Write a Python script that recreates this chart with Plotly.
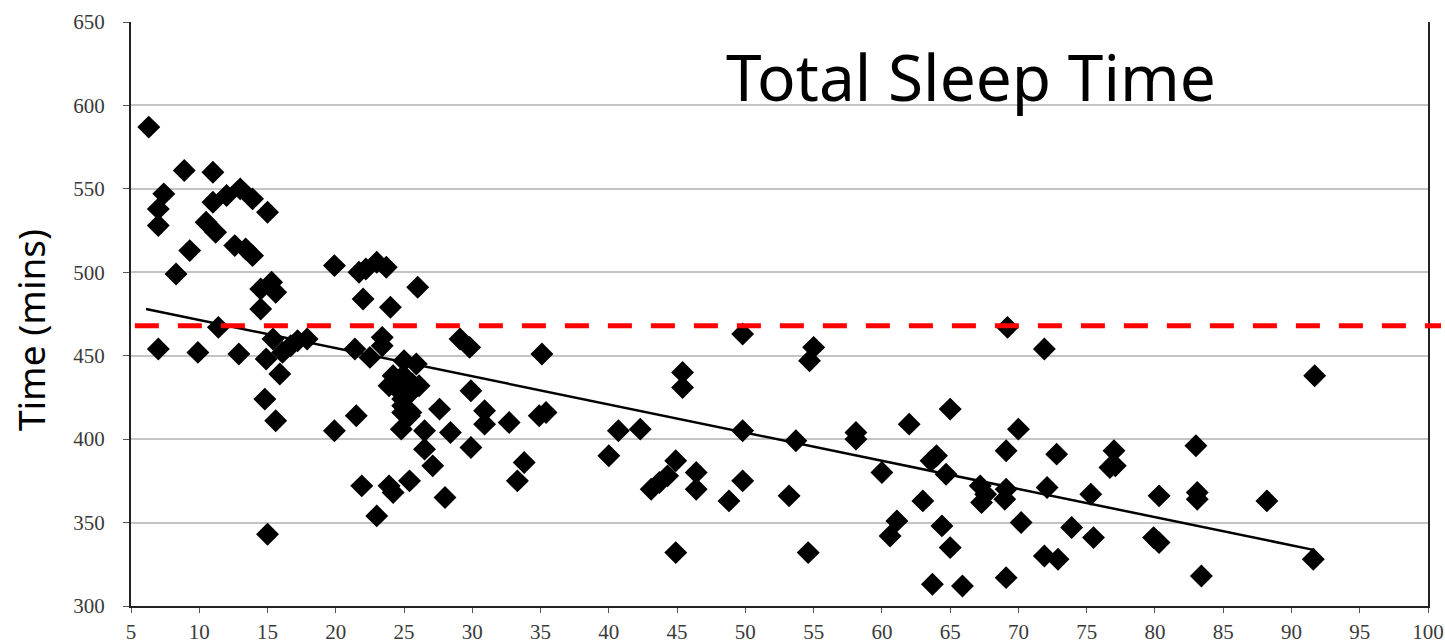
import plotly.graph_objects as go

# Age (x) and total sleep time in minutes (y)
age = [
    6.3, 8.9, 11.0, 7.4, 7.0, 7.0, 11.0, 12.0, 13.0, 13.9, 15.0, 10.5, 11.2, 12.6, 13.4, 13.9,
    9.3, 8.3, 15.3, 14.5, 15.6, 14.5, 11.4, 7.0, 9.9, 12.9, 14.9, 15.4, 17.2, 17.9, 16.1, 16.7,
    15.9, 14.8, 15.6, 15.0,
    19.9, 21.7, 23.0, 23.7, 22.2, 26.0, 22.0, 24.0, 21.4, 22.5, 23.4, 23.4, 29.1, 29.8,
    25.0, 25.9, 23.9, 24.7, 25.2, 25.6, 25.6, 26.1, 24.4, 24.2, 25.2, 24.9, 24.9, 25.5, 25.4, 24.9,
    27.6, 29.9, 21.5, 19.9, 24.8, 26.5, 28.4, 26.5, 27.1, 29.9, 21.9, 23.9, 24.2, 25.4, 23.0, 28.0,
    35.1, 45.4, 45.4, 30.9, 30.9, 32.7, 34.9, 35.4, 33.8, 33.3, 40.7, 42.3, 40.0, 44.9, 46.4, 46.4,
    43.1, 43.7, 44.3, 48.8, 49.8, 49.8, 44.9, 49.8,
    55.0, 54.7, 69.2, 71.9, 53.7, 58.1, 58.1, 62.0, 65.0, 70.0, 69.1, 60.0, 63.6, 64.0, 64.7, 53.2,
    67.2, 67.6, 67.3, 69.1, 69.0, 63.0, 61.1, 60.6, 64.4, 65.0, 70.2, 54.6, 63.7, 65.9, 69.1, 71.9,
    72.9, 91.7, 72.8, 77.0, 76.7, 77.1, 83.0, 72.1, 75.3, 80.3, 83.1, 83.1, 88.2, 73.9, 75.5, 79.9,
    80.3, 91.6, 83.4,
]
sleep_min = [
    587, 561, 560, 547, 538, 528, 542, 546, 550, 544, 536, 530, 524, 516, 514, 510,
    513, 499, 494, 490, 488, 478, 467, 454, 452, 451, 448, 460, 459, 460, 452, 456,
    439, 424, 411, 343,
    504, 500, 506, 503, 502, 491, 484, 479, 454, 449, 461, 456, 460, 455,
    447, 445, 432, 436, 436, 433, 429, 432, 431, 438, 426, 424, 420, 416, 414, 416,
    418, 429, 414, 405, 406, 405, 404, 394, 384, 395, 372, 372, 368, 375, 354, 365,
    451, 440, 431, 417, 409, 410, 414, 416, 386, 375, 405, 406, 390, 387, 380, 370,
    370, 374, 378, 363, 375, 405, 332, 463,
    455, 447, 467, 454, 399, 404, 400, 409, 418, 406, 393, 380, 387, 390, 379, 366,
    372, 367, 362, 370, 364, 363, 351, 342, 348, 335, 350, 332, 313, 312, 317, 330,
    328, 438, 391, 393, 383, 384, 396, 371, 367, 366, 368, 364, 363, 347, 341, 341,
    338, 328, 318,
]

# Trend line end points
trend_x = [6.1, 91.7]
trend_y = [478, 333.5]

# Recommended reference level (dashed red line)
reference_level = 468

x_ticks = list(range(5, 101, 5))
y_ticks = list(range(300, 651, 50))

tick_font = dict(family="Liberation Serif", size=21, color="#3a3a3a")

fig = go.Figure()
fig.add_trace(go.Scatter(
    x=age, y=sleep_min, mode="markers",
    marker=dict(symbol="diamond", size=16, color="black",
                line=dict(color="black", width=1.5)),
    showlegend=False, cliponaxis=False,
))
fig.add_trace(go.Scatter(
    x=trend_x, y=trend_y, mode="lines",
    line=dict(color="black", width=2.5), showlegend=False,
))

fig.add_shape(type="line", xref="paper", yref="y",
              x0=0.003, x1=1.01, y0=reference_level, y1=reference_level,
              line=dict(color="#ff0000", width=5, dash="24px,19px"), layer="above")

fig.add_annotation(text="Total Sleep Time", xref="paper", yref="paper",
                   x=(971 - 131) / 1297, y=(606 - 76) / 584, xanchor="center", yanchor="middle",
                   showarrow=False, font=dict(family="Noto Sans", size=64, color="black"))

fig.add_annotation(text="Time (mins)", xref="paper", yref="paper",
                   x=(30 - 131) / 1297, y=(606 - 330) / 584, xanchor="center", yanchor="middle",
                   textangle=-90, showarrow=False,
                   font=dict(family="Noto Sans", size=37, color="black"))

fig.update_layout(
    width=1445, height=644,
    margin=dict(l=131, r=17, t=22, b=38),
    paper_bgcolor="white", plot_bgcolor="white",
    font=dict(family="Liberation Serif", size=21, color="#3a3a3a"),
    xaxis=dict(range=[5, 100], tickvals=x_ticks, showgrid=False, zeroline=False,
               showline=True, linecolor="#222222", linewidth=2,
               ticks="outside", ticklen=5, tickcolor="#555555",
               tickfont=tick_font, ticklabelstandoff=1, automargin=False),
    yaxis=dict(range=[300, 650], tickvals=y_ticks, showgrid=True,
               gridcolor="#c4c4c4", gridwidth=2, zeroline=False,
               showline=True, linecolor="#222222", linewidth=2, mirror=True,
               ticks="outside", ticklen=6, tickcolor="#555555",
               tickfont=tick_font, ticklabelstandoff=14, automargin=False),
)

fig.write_html("out.html")
